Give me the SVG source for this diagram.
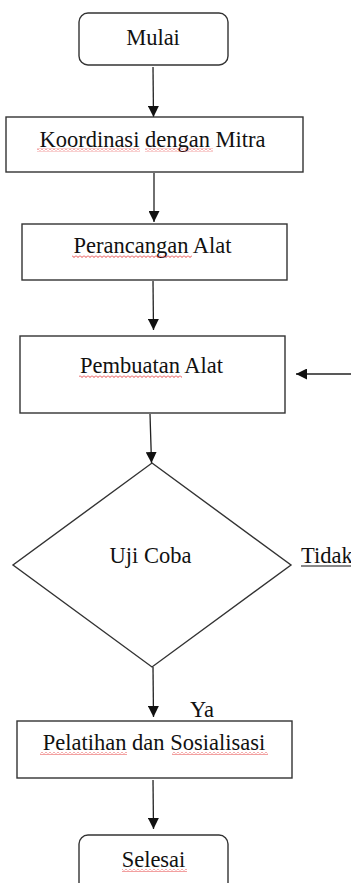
<svg xmlns="http://www.w3.org/2000/svg" width="351" height="883" viewBox="0 0 351 883">
<defs>
<style>
.box{fill:#fff;stroke:#333;stroke-width:1.4}
.t{font-family:'Liberation Serif',serif;font-size:22.5px;fill:#111;text-anchor:middle}
.tl{font-family:'Liberation Serif',serif;font-size:22.5px;fill:#111}
.ln{stroke:#222;stroke-width:1.3;fill:none}
</style>
<marker id="ah" viewBox="0 0 10 10" refX="10" refY="5" markerWidth="11" markerHeight="11" markerUnits="userSpaceOnUse" orient="auto">
<path d="M0,0 L10,5 L0,10 Z" fill="#111"/>
</marker>
<pattern id="wave" width="4" height="3" patternUnits="userSpaceOnUse">
<path d="M0,0.5 L2,2.5 L4,0.5" stroke="#e01010" stroke-width="0.8" fill="none"/>
</pattern>
</defs>
<rect width="351" height="883" fill="#fff"/>
<g id="connectors">
<line class="ln" x1="153" y1="67" x2="153.5" y2="117" marker-end="url(#ah)"/>
<line class="ln" x1="154" y1="173" x2="154" y2="222" marker-end="url(#ah)"/>
<line class="ln" x1="153" y1="281" x2="153.5" y2="330" marker-end="url(#ah)"/>
<line class="ln" x1="351" y1="374" x2="296" y2="374" marker-end="url(#ah)"/>
<line class="ln" x1="150" y1="414" x2="151.5" y2="463" marker-end="url(#ah)"/>
<line class="ln" x1="153" y1="667" x2="153.5" y2="717" marker-end="url(#ah)"/>
<line class="ln" x1="153" y1="780" x2="153.5" y2="829" marker-end="url(#ah)"/>
</g>
<g id="mulai">
<rect class="box" x="79" y="13" width="149" height="52" rx="9"/>
<text class="t" x="153" y="45">Mulai</text>
</g>
<g id="koordinasi">
<rect class="box" x="6" y="117" width="297" height="55"/>
<text class="t" x="152.5" y="147">Koordinasi dengan Mitra</text>
<rect x="37" y="148.5" width="103" height="3" fill="url(#wave)"/>
<rect x="145" y="148.5" width="68" height="3" fill="url(#wave)"/>
</g>
<g id="perancangan">
<rect class="box" x="22" y="224" width="265" height="56"/>
<text class="t" x="152.5" y="253">Perancangan Alat</text>
<rect x="72" y="255" width="120" height="3" fill="url(#wave)"/>
</g>
<g id="pembuatan">
<rect class="box" x="20" y="336" width="265" height="77"/>
<text class="t" x="151.5" y="373">Pembuatan Alat</text>
<rect x="79" y="375" width="103" height="3" fill="url(#wave)"/>
</g>
<g id="ujicoba">
<polygon class="box" points="152,463 291,565 152,667 13,565"/>
<text class="t" x="150.5" y="563">Uji Coba</text>
</g>
<g id="tidak">
<text class="tl" x="301" y="563">Tidak</text>
<line x1="301" y1="566" x2="351" y2="566" stroke="#111" stroke-width="1"/>
</g>
<g id="ya">
<text class="tl" x="190" y="717">Ya</text>
</g>
<g id="pelatihan">
<rect class="box" x="17" y="721" width="275" height="57"/>
<text class="t" x="154" y="750">Pelatihan dan Sosialisasi</text>
<rect x="40" y="752" width="87" height="3" fill="url(#wave)"/>
<rect x="172" y="752" width="96" height="3" fill="url(#wave)"/>
</g>
<g id="selesai">
<rect class="box" x="79" y="835" width="149" height="60" rx="9"/>
<text class="t" x="153.5" y="867">Selesai</text>
<rect x="122" y="869" width="65" height="3" fill="url(#wave)"/>
</g>
</svg>
